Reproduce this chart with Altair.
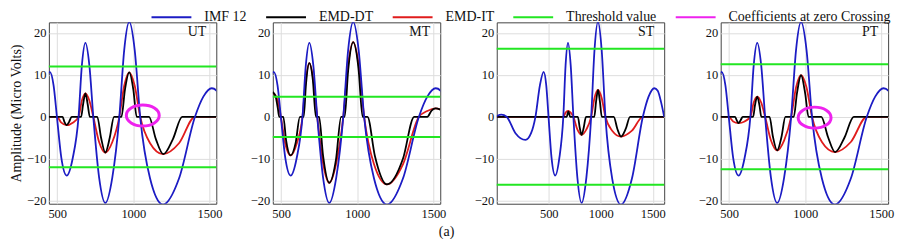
import altair as alt
import pandas as pd

NAMES = ["IMF 12", "EMD-DT", "EMD-IT", "Threshold value", "Coefficients at zero Crossing"]
COLORS = ["#1c1cc4", "#000000", "#e01c1c", "#22e622", "#ee22ee"]

PANELS = ["UT", "MT", "ST", "PT"]
X_MIN = [445, 445, 0, 445]
X_MAX = [1545, 1545, 1610, 1545]
THRESHOLDS = [12.0, 4.8, 16.2, 12.5]

# IMF 12 (shared by all panels)
BLUE_X = [0, 45, 95, 180, 276, 330, 372, 415, 451, 476, 498, 527, 562, 602, 640, 662, 685, 711,
          737, 775, 816, 862, 908, 940, 973, 1009, 1045, 1110, 1195, 1300, 1405, 1460, 1515,
          1548, 1580, 1610]
BLUE_Y = [0.2, 0.5, 0.0, -3.9, -5.5, -3.9, 0.0, 7.5, 10.7, 7.5, 0.0, -9.8, -14.0, -9.8, 0.0,
          12.3, 17.6, 12.3, 0.0, -14.4, -20.5, -14.4, 0.0, 15.9, 22.6, 15.9, 0.0, -14.7, -20.9,
          -14.7, 0.0, 4.8, 6.8, 6.2, 3.5, 0.0]

# UT
UT_DT_X = [445, 535, 547, 562, 578, 595, 657, 670, 685, 700, 714, 763, 788, 816, 845, 873, 922,
           945, 973, 1000, 1022, 1103, 1148, 1197, 1260, 1321, 1545]
UT_DT_Y = [0, 0, -1.2, -2.0, -1.2, 0, 0, 3.0, 5.6, 3.0, 0, 0, -5.0, -8.5, -5.0, 0, 0, 6.5, 10.6,
           6.5, 0, 0, -5.3, -8.9, -5.3, 0, 0]
UT_IT_X = [445, 498, 527, 562, 602, 640, 662, 685, 711, 737, 775, 816, 862, 908, 940, 973, 1009,
           1045, 1110, 1195, 1300, 1405, 1545]
UT_IT_Y = [0, 0, -1.4, -2.0, -1.4, 0, 3.9, 5.6, 3.9, 0, -6.0, -8.5, -6.0, 0, 7.4, 10.6, 7.4, 0,
           -6.3, -8.9, -6.3, 0, 0]

# MT
MT_DT_X = [445, 465, 478, 487, 514, 532, 562, 595, 623, 648, 663, 685, 708, 728, 749, 775, 816,
           860, 894, 917, 940, 973, 1008, 1035, 1067, 1115, 1195, 1300, 1374, 1460, 1488, 1515,
           1545]
MT_DT_Y = [5.9, 4.6, 2.0, 0, 0, -5.5, -9.2, -6.2, 0, 0, 7.8, 12.8, 8.8, 0, 0, -9.2, -15.7, -10.2,
           0, 0, 11.0, 17.8, 11.5, 0, 0, -9.2, -16.1, -10.0, 0, 0, 1.5, 2.0, 1.7]
MT_IT_X = [445, 476, 498, 527, 562, 602, 640, 662, 685, 711, 737, 775, 816, 862, 908, 940, 973,
           1009, 1045, 1110, 1195, 1300, 1405, 1460, 1515, 1545]
MT_IT_Y = [5.8, 4.1, 0, -6.4, -9.2, -6.4, 0, 8.9, 12.8, 8.9, 0, -11.0, -15.7, -11.0, 0, 12.5,
           17.8, 12.5, 0, -11.3, -16.1, -11.3, 0, 1.4, 2.0, 1.8]

# ST
ST_DT_X = [0, 673, 681, 689, 697, 705, 780, 798, 816, 836, 858, 938, 955, 974, 992, 1010, 1125,
           1160, 1195, 1240, 1282, 1610]
ST_DT_Y = [0, 0, 0.7, 1.3, 0.7, 0, 0, -2.6, -4.3, -2.6, 0, 0, 3.6, 6.4, 3.6, 0, 0, -2.9, -4.7,
           -2.9, 0, 0]
ST_IT_X = [0, 640, 662, 685, 711, 737, 775, 816, 862, 908, 940, 973, 1009, 1045, 1110, 1195, 1300,
           1405, 1610]
ST_IT_Y = [0, 0, 1.0, 1.4, 1.0, 0, -3.0, -4.3, -3.0, 0, 4.5, 6.4, 4.5, 0, -3.3, -4.7, -3.3, 0, 0]

# PT
PT_DT_X = [445, 540, 550, 562, 576, 590, 658, 670, 685, 700, 712, 766, 788, 816, 845, 870, 925,
           946, 973, 1000, 1022, 1106, 1150, 1197, 1260, 1319, 1545]
PT_DT_Y = [0, 0, -0.8, -1.5, -0.8, 0, 0, 2.7, 4.8, 2.7, 0, 0, -4.7, -8.0, -4.7, 0, 0, 5.6, 9.9,
           5.6, 0, 0, -4.8, -8.4, -4.8, 0, 0]
PT_IT_X = [445, 498, 527, 562, 602, 640, 662, 685, 711, 737, 775, 816, 862, 908, 940, 973, 1009,
           1045, 1110, 1195, 1300, 1405, 1545]
PT_IT_Y = [0, 0, -1.1, -1.5, -1.1, 0, 3.4, 4.8, 3.4, 0, -5.6, -8.0, -5.6, 0, 7.0, 9.9, 7.0, 0,
           -6.0, -8.4, -6.0, 0, 0]

DT = {"UT": (UT_DT_X, UT_DT_Y), "MT": (MT_DT_X, MT_DT_Y), "ST": (ST_DT_X, ST_DT_Y), "PT": (PT_DT_X, PT_DT_Y)}
IT = {"UT": (UT_IT_X, UT_IT_Y), "MT": (MT_IT_X, MT_IT_Y), "ST": (ST_IT_X, ST_IT_Y), "PT": (PT_IT_X, PT_IT_Y)}

# coefficients at zero crossing (ellipse markers)
ZC_PANEL = ["UT", "PT"]
ZC_X = [1062, 1062]
ZC_Y = [0.3, -0.2]

Y_DOMAIN = [-20.7, 22.5]
FONT = "Liberation Serif"
W, H = 168, 182
ELLIPSE = "M -1 0 A 1 0.64 0 1 1 1 0 A 1 0.64 0 1 1 -1 0 Z"
# legend symbol: a 40px-long horizontal stroke drawn with a small nominal symbol size
LEG_LINE = "M -2.5 0 L 2.5 0"

legend = alt.Legend(orient="none", legendX=114, legendY=-14, direction="horizontal", title=None,
                    symbolType=LEG_LINE, symbolSize=256, symbolStrokeWidth=2, labelFont=FONT,
                    labelFontSize=14, labelColor="#111", labelOffset=24, columnPadding=15,
                    padding=0, labelLimit=400)
color_scale = alt.Scale(domain=NAMES, range=COLORS)


def make_panel(i):
    name = PANELS[i]
    xs = alt.Scale(domain=[X_MIN[i], X_MAX[i]], nice=False, zero=False)
    ys = alt.Scale(domain=Y_DOMAIN, nice=False, zero=False)
    xaxis = alt.Axis(values=[500, 1000, 1500], format="d", title=None, ticks=False,
                     labelPadding=4, domain=False)
    yaxis = alt.Axis(values=[-20, -10, 0, 10, 20], format="d",
                     title="Amplitude (Micro Volts)" if i == 0 else None,
                     ticks=False, labelPadding=3, domain=False, titlePadding=3)
    X = alt.X("x:Q", scale=xs, axis=xaxis)
    Y = alt.Y("y:Q", scale=ys, axis=yaxis)
    C = alt.Color("series:N", scale=color_scale, legend=legend)

    blue = pd.DataFrame({"x": BLUE_X, "y": BLUE_Y, "series": NAMES[0]})
    dt = pd.DataFrame({"x": DT[name][0], "y": DT[name][1], "series": NAMES[1]})
    it = pd.DataFrame({"x": IT[name][0], "y": IT[name][1], "series": NAMES[2]})
    th = pd.DataFrame({"y": [THRESHOLDS[i], -THRESHOLDS[i]], "series": NAMES[3]})
    zc = pd.DataFrame({"x": [ZC_X[k] for k in range(len(ZC_PANEL)) if ZC_PANEL[k] == name],
                       "y": [ZC_Y[k] for k in range(len(ZC_PANEL)) if ZC_PANEL[k] == name]})
    zc["series"] = NAMES[4]

    layers = [
        alt.Chart(it).mark_line(interpolate="monotone", clip=True, strokeWidth=1.8).encode(x=X, y=Y, color=C),
        alt.Chart(dt).mark_line(interpolate="monotone", clip=True, strokeWidth=1.8).encode(x=X, y=Y, color=C),
        alt.Chart(blue).mark_line(interpolate="monotone", clip=True, strokeWidth=1.8).encode(x=X, y=Y, color=C),
        alt.Chart(th).mark_rule(strokeWidth=2).encode(y=Y, color=C),
    ]
    if len(zc):
        layers.append(alt.Chart(zc).mark_point(shape=ELLIPSE, size=1089, filled=False, strokeWidth=3,
                                               opacity=1).encode(x=X, y=Y, color=C))
    layers.append(alt.Chart(pd.DataFrame({"label": [name]})).mark_text(
        align="right", baseline="middle", font=FONT, fontSize=14, color="#111").encode(
        text="label:N", x=alt.value(W - 10), y=alt.value(10)))
    return alt.layer(*layers).properties(width=W, height=H)


chart = alt.hconcat(*[make_panel(i) for i in range(4)], spacing=56.7, bounds="flush").properties(
    background="white", padding=0,
    title=alt.TitleParams("(a)", orient="bottom", anchor="middle", font=FONT, fontSize=14,
                          fontWeight="normal", color="#111", offset=4, dx=-5)
).configure_view(stroke="#444", strokeWidth=1).configure_axis(
    labelFont=FONT, labelFontSize=12.5, labelColor="#111", titleFont=FONT, titleFontSize=14,
    titleFontWeight="normal", titleColor="#111", gridColor="#dddddd", gridWidth=1
)

chart.save("out.html", embed_options={"renderer": "svg", "actions": False})
